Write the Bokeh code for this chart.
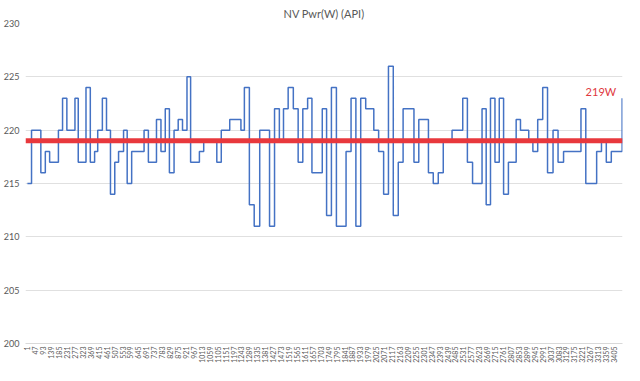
from bokeh.plotting import figure
from bokeh.models import Range1d, FixedTicker, Span, Label
from bokeh.embed import file_html
from bokeh.resources import INLINE
import math

title_text = "NV Pwr(W) (API)"
avg_value = 219
avg_label = "219W"

# sample index where the reading changes, and the reading (W) from there on
sample = [1, 25, 79, 105, 130, 181, 205, 230, 277, 296, 341, 366, 391, 409, 436, 460,
          483, 508, 530, 559, 580, 606, 678, 703, 750, 776, 801, 825, 852, 876, 901,
          927, 948, 999, 1024, 1100, 1126, 1175, 1240, 1260, 1289, 1317, 1349, 1406,
          1435, 1463, 1487, 1514, 1544, 1572, 1599, 1627, 1652, 1712, 1737, 1765, 1794,
          1850, 1879, 1907, 1935, 1964, 2011, 2039, 2068, 2096, 2124, 2153, 2181, 2244,
          2272, 2328, 2356, 2385, 2414, 2465, 2527, 2554, 2584, 2639, 2663, 2688, 2714,
          2739, 2764, 2792, 2837, 2862, 2910, 2934, 2962, 2991, 3019, 3051, 3080, 3112,
          3213, 3241, 3304, 3332, 3360, 3389, 3452]
power_w = [215, 220, 216, 218, 217, 220, 223, 220, 223, 217, 224, 217, 218, 220, 223, 220,
           214, 217, 218, 220, 215, 218, 220, 217, 221, 218, 222, 216, 220, 221, 220,
           225, 217, 218, 219, 217, 220, 221, 220, 224, 213, 211, 220, 211,
           222, 219, 222, 224, 222, 217, 222, 223, 216, 222, 212, 224, 211,
           218, 223, 211, 223, 222, 220, 218, 214, 226, 212, 217, 222, 217,
           221, 216, 215, 216, 219, 220, 223, 217, 215, 222, 213, 223, 217,
           223, 214, 217, 221, 220, 219, 218, 221, 224, 216, 220, 217, 218,
           222, 215, 218, 219, 217, 218, 223]

x_ticks = list(range(1, 3406, 46))
y_ticks = [200, 205, 210, 215, 220, 225, 230]

FONT = "Lato"
GRAY = "#595959"

p = figure(width=624, height=365, output_backend="svg", toolbar_location=None,
           x_range=Range1d(-10, 3454), y_range=Range1d(200, 230),
           min_border_left=14, min_border_right=2, min_border_top=0, min_border_bottom=0)
p.title.text = title_text
p.title.align = "center"
p.title.text_font = FONT
p.title.text_font_style = "normal"
p.title.text_color = GRAY
p.title.text_font_size = "11px"
p.title.standoff = 8

p.outline_line_color = None
p.background_fill_color = "white"
p.border_fill_color = "white"

p.xgrid.grid_line_color = None
p.ygrid.grid_line_color = "#e0e0e0"
p.ygrid.ticker = FixedTicker(ticks=y_ticks)

p.yaxis.ticker = FixedTicker(ticks=y_ticks)
p.yaxis.axis_line_color = None
p.yaxis.major_tick_line_color = None
p.yaxis.minor_tick_line_color = None
p.yaxis.major_tick_out = 0
p.yaxis.major_tick_in = 0
p.yaxis.minor_tick_out = 0
p.yaxis.major_label_text_font = FONT
p.yaxis.major_label_text_font_size = "9px"
p.yaxis.major_label_text_color = GRAY
p.yaxis.major_label_standoff = 6

p.xaxis.ticker = FixedTicker(ticks=x_ticks)
p.xaxis.axis_line_color = "#d9d9d9"
p.xaxis.major_tick_line_color = None
p.xaxis.minor_tick_line_color = None
p.xaxis.major_tick_out = 0
p.xaxis.major_tick_in = 0
p.xaxis.minor_tick_out = 0
p.xaxis.major_label_orientation = math.pi / 2
p.xaxis.major_label_text_font = FONT
p.xaxis.major_label_text_font_size = "7px"
p.xaxis.major_label_text_color = GRAY
p.xaxis.major_label_standoff = 3

p.step(x=sample, y=power_w, mode="after", line_color="#4472c4", line_width=1.5)

p.add_layout(Span(location=avg_value, dimension="width", line_color="#e8383d", line_width=5))
p.add_layout(Label(x=3240, y=223.6, text=avg_label, text_color="#e0393e",
                   text_font=FONT, text_font_size="11px", text_baseline="middle"))

open("out.html", "w").write(file_html(p, INLINE))
